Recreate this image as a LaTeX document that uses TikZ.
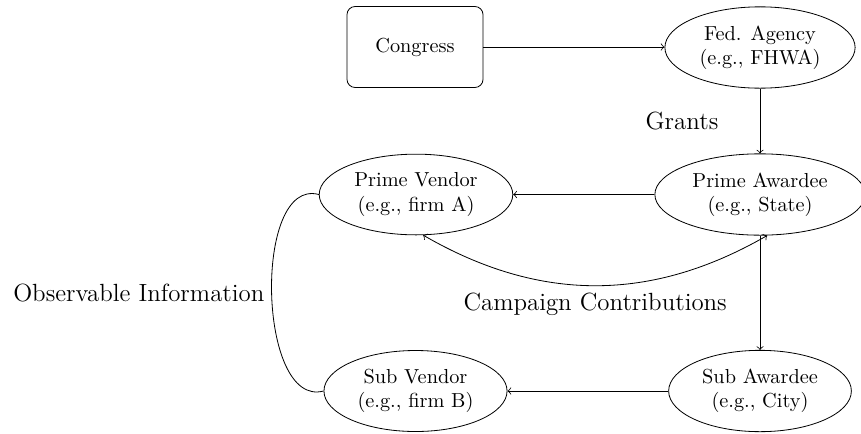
\documentclass[tikz,border=0pt]{standalone}
\usetikzlibrary{shapes.geometric}
\begin{document}
\begin{tikzpicture}[x=0.4926pt, y=-0.4926pt,
  oval/.style={ellipse, draw, align=center},
  box/.style={draw, rounded corners=4pt, minimum width=67pt, minimum height=39.9pt},
  flow/.style={->},
  lbl/.style={font=\fontsize{12.25}{14.7}\selectfont}]
\useasboundingbox (0,0) rectangle (861,433);

% actors
\node[box]  (congress) at (415,47)    {Congress};
\node[oval] (fed)      at (760,47.5)  {Fed. Agency\\(e.g., FHWA)};
\node[oval] (pv)       at (416,194.5) {Prime Vendor\\(e.g., firm A)};
\node[oval] (pa)       at (760,194.5) {Prime Awardee\\(e.g., State)};
\node[oval] (sv)       at (415.5,391) {Sub Vendor\\(e.g., firm B)};
\node[oval] (sa)       at (760,391)   {Sub Awardee\\(e.g., City)};

% money and contracts
\draw[flow] (congress.east) -- (congress.east -| fed.west);
\draw[flow] (fed) -- node[midway, left=17pt, lbl] {Grants} (pa);
\draw[flow] (pa) -- (pv);
\draw[flow] (pa) -- (sa);
\draw[flow] (sa) -- (sv);

% contributions loop
\draw[<->] (pv.-80) to[bend right=30]
  node[midway, below, lbl] {Campaign Contributions} (pa.-80);

% information link between vendors
\draw (pv.west) to[out=165, in=195, looseness=0.89]
  node[midway, left, lbl] {Observable Information} (sv.west);
\end{tikzpicture}
\end{document}
